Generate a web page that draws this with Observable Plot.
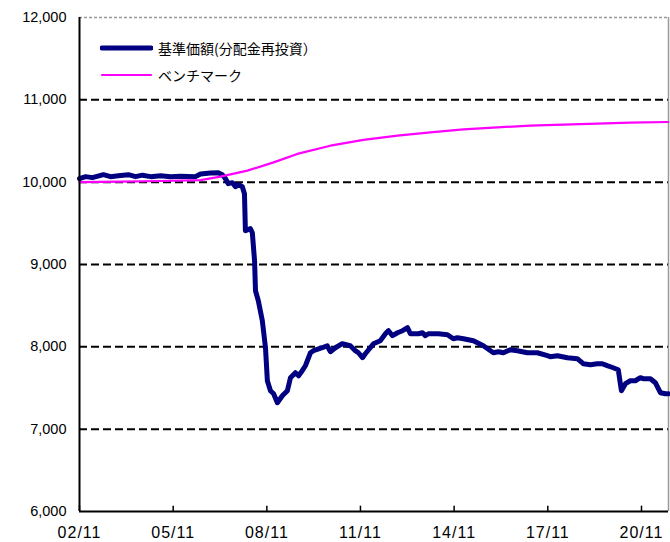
<!DOCTYPE html>
<html><head><meta charset="utf-8">
<script src="https://cdn.jsdelivr.net/npm/d3@7"></script>
<script src="https://cdn.jsdelivr.net/npm/@observablehq/plot@0.6"></script>
<style>
body{margin:0;background:#fff;}
#wrap{position:relative;width:670px;height:542px;}
#legend{position:absolute;left:100px;top:34px;font-family:"Noto Sans CJK JP","Noto Sans",sans-serif;font-size:14px;color:#000;}
#legend .row{display:flex;align-items:center;height:27px;}
#legend svg{margin-right:5px;}
g[aria-label="x-axis tick label"] text{letter-spacing:1px;}
</style></head><body><div id="wrap"><div id="legend"></div></div>
<script>
// 基準価額(分配金再投資)
const navDates = ["2002-11-01","2003-01-12","2003-04-01","2003-08-08","2003-10-30","2004-01-30","2004-05-26","2004-08-18","2004-11-06","2005-02-10","2005-06-07","2005-10-01","2006-01-26","2006-07-20","2006-09-17","2007-01-12","2007-04-13","2007-05-30","2007-07-05","2007-08-08","2007-09-24","2007-10-31","2007-12-06","2008-01-19","2008-02-13","2008-02-24","2008-04-23","2008-05-15","2008-06-10","2008-06-21","2008-07-24","2008-09-09","2008-10-16","2008-11-07","2008-12-13","2009-01-19","2009-03-04","2009-05-01","2009-06-29","2009-08-04","2009-10-01","2009-11-07","2009-12-20","2010-01-26","2010-03-26","2010-05-01","2010-08-11","2010-10-08","2010-11-14","2011-01-12","2011-04-02","2011-07-05","2011-09-02","2011-10-08","2011-11-25","2011-12-28","2012-02-24","2012-04-01","2012-06-20","2012-08-28","2012-09-24","2012-11-10","2013-01-08","2013-03-07","2013-05-05","2013-06-07","2013-09-10","2013-10-27","2013-11-29","2014-01-04","2014-05-01","2014-08-15","2014-10-23","2014-12-09","2015-02-17","2015-06-14","2015-10-09","2016-02-03","2016-04-01","2016-05-30","2016-08-18","2016-11-10","2017-03-07","2017-07-02","2017-10-27","2017-11-29","2018-02-21","2018-06-18","2018-10-12","2018-12-20","2019-03-14","2019-06-03","2019-07-31","2019-09-27","2019-12-06","2020-02-03","2020-03-11","2020-04-27","2020-06-24","2020-08-21","2020-10-19","2020-11-21","2021-02-13","2021-04-12","2021-06-10","2021-08-08","2021-09-09"];
const navValues = [10043,10067,10055,10091,10067,10079,10091,10067,10085,10067,10079,10067,10073,10067,10100,10110,10115,10091,10043,9982,9994,9945,9970,9945,9860,9410,9435,9386,9046,8681,8560,8317,7989,7588,7467,7430,7321,7406,7467,7625,7686,7649,7710,7770,7928,7953,7989,8013,7941,7989,8038,8013,7953,7928,7868,7916,7989,8038,8074,8171,8196,8135,8171,8196,8232,8159,8159,8171,8135,8159,8159,8147,8098,8110,8098,8074,8013,7928,7941,7928,7965,7953,7928,7928,7892,7880,7892,7868,7856,7795,7783,7795,7795,7771,7746,7722,7467,7552,7588,7588,7625,7613,7613,7564,7443,7430,7430];
// ベンチマーク
const benchDates = ["2002-11-01","2004-02-24","2005-06-07","2006-09-17","2007-05-08","2008-03-18","2009-01-19","2009-10-23","2010-11-14","2011-12-06","2013-01-08","2014-01-26","2015-02-17","2016-03-22","2017-04-09","2018-05-01","2019-06-03","2020-06-20","2021-09-09"];
const benchValues = [10000,10006,10014,10024,10067,10140,10240,10343,10443,10513,10565,10605,10642,10666,10686,10698,10710,10723,10731];
// axes
const xTickDates = ["2002-11-01","2005-11-01","2008-11-01","2011-11-01","2014-11-01","2017-11-01","2020-11-01"];
const xTickLabels = ["02/11","05/11","08/11","11/11","14/11","17/11","20/11"];
const yTicks = [6000,7000,8000,9000,10000,11000,12000];
const gridValues = [7000,8000,9000,10000,11000];
const seriesNames = ["基準価額(分配金再投資）","ベンチマーク"];
const seriesColors = ["#000080","#ff00ff"];

const xStart = new Date("2002-11-01"), xEnd = new Date("2021-09-13");
const nav = navDates.map((d,i)=>({date:new Date(d), value:navValues[i]}));
const bench = benchDates.map((d,i)=>({date:new Date(d), value:benchValues[i]}));
const tickDates = xTickDates.map(d=>new Date(d));

const chart = Plot.plot({
  width:670, height:542,
  marginLeft:79, marginRight:2, marginTop:17, marginBottom:31,
  style:{background:"#fff", color:"#000"},
  x:{type:"utc", domain:[xStart,xEnd], label:null},
  y:{domain:[6000,12000], label:null},
  marks:[
    Plot.ruleY(gridValues,{stroke:"#000",strokeWidth:2,strokeDasharray:"8,4"}),
    Plot.ruleY([12000],{stroke:"#999",strokeWidth:1.5,strokeDasharray:"3,2"}),
    Plot.ruleX([xEnd],{stroke:"#999",strokeWidth:1.5}),
    Plot.lineY(nav,{x:"date",y:"value",stroke:seriesColors[0],strokeWidth:5,strokeLinejoin:"round",strokeLinecap:"round"}),
    Plot.lineY(bench,{x:"date",y:"value",stroke:seriesColors[1],strokeWidth:2.2}),
    Plot.ruleX([xStart],{stroke:"#000",strokeWidth:2}),
    Plot.ruleY([6000],{stroke:"#000",strokeWidth:2}),
    Plot.ruleX(tickDates,{y1:6000,y2:6065,stroke:"#000",strokeWidth:1.5}),
    Plot.axisY({ticks:yTicks, tickFormat:d3.format(","), tickSize:0, tickPadding:13, fontSize:14.5, fontFamily:"Liberation Sans, Arial, sans-serif", label:null}),
    Plot.axisX({ticks:tickDates, tickFormat:d=>xTickLabels[tickDates.findIndex(t=>+t===+d)], tickSize:0, tickPadding:15, fontSize:16, fontFamily:"Liberation Sans, Arial, sans-serif", label:null})
  ]
});
document.getElementById("wrap").prepend(chart);

const legend = document.getElementById("legend");
seriesNames.forEach((name,i)=>{
  const row = document.createElement("div");
  row.className = "row";
  const w = i===0 ? 5 : 2.2;
  row.innerHTML = `<svg width="53" height="10"><line x1="2" x2="51" y1="5" y2="5" stroke="${seriesColors[i]}" stroke-width="${w}" stroke-linecap="round"/></svg><span>${name}</span>`;
  legend.appendChild(row);
});
</script></body></html>
